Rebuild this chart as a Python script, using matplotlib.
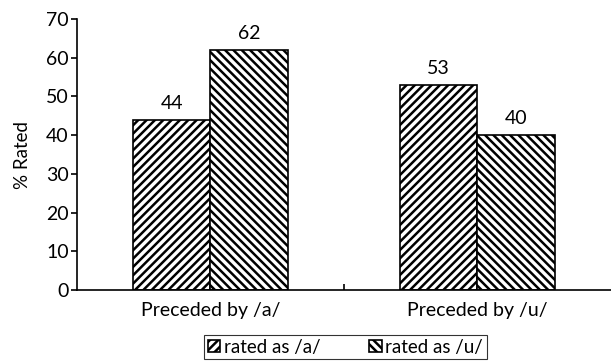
import matplotlib.pyplot as plt
import numpy as np

plt.rcParams["font.family"] = ["Lato", "DejaVu Sans"]
plt.rcParams["hatch.linewidth"] = 1.8

categories = ["Preceded by /a/", "Preceded by /u/"]
series_names = ["rated as /a/", "rated as /u/"]
rated_a = [44, 53]
rated_u = [62, 40]

fig = plt.figure(figsize=(6.11, 3.61), dpi=100)
ax = fig.add_axes([0.126, 0.197, 0.874, 0.75])

x = np.arange(len(categories))
width = 0.29

bars_a = ax.bar(x - width / 2, rated_a, width, color="white", edgecolor="black",
                linewidth=1.2, hatch="////", label=series_names[0])
bars_u = ax.bar(x + width / 2, rated_u, width, color="white", edgecolor="black",
                linewidth=1.2, hatch="\\\\\\\\", label=series_names[1])

# value labels above each bar
for bars in (bars_a, bars_u):
    for b in bars:
        ax.text(b.get_x() + b.get_width() / 2, b.get_height() + 2, f"{b.get_height():.0f}",
                ha="center", va="bottom", fontsize=14)

ax.set_xlim(-0.5, 1.5)
ax.set_ylim(0, 70)
ax.set_yticks(range(0, 71, 10))
ax.set_xticks(x)
ax.set_xticklabels(categories, fontsize=14)
ax.set_xticks([0.5], minor=True)
ax.tick_params(axis="x", which="major", length=0, pad=9)
ax.tick_params(axis="x", which="minor", length=4, direction="in", width=1.2)
ax.tick_params(axis="y", length=4, width=1.2, labelsize=14, pad=2)
ax.set_ylabel("% Rated", fontsize=13.5, labelpad=11)

for side in ("top", "right"):
    ax.spines[side].set_visible(False)
for side in ("left", "bottom"):
    ax.spines[side].set_linewidth(1.2)

leg = ax.legend(loc="upper center", bbox_to_anchor=(0.503, -0.166), ncol=2, frameon=True,
                fancybox=False, edgecolor="black", fontsize=13.5, handlelength=0.65,
                handleheight=0.65, handletextpad=0.2, columnspacing=2.6,
                borderpad=0.2, borderaxespad=0)
leg.get_frame().set_linewidth(0.8)

fig.savefig("out.png", dpi=100)
